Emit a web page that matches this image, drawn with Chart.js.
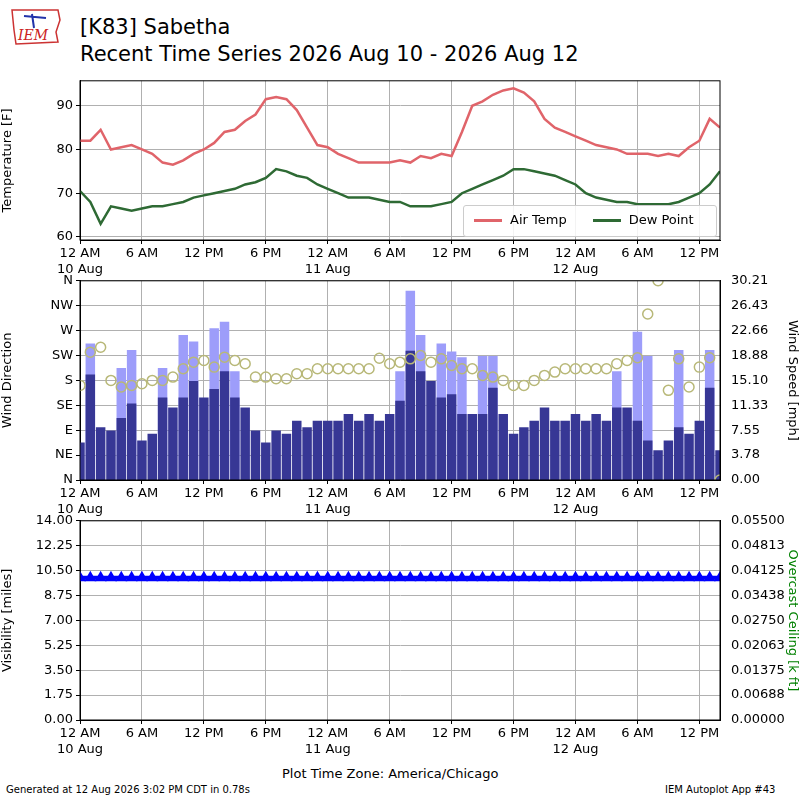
<!DOCTYPE html>
<html>
<head>
<meta charset="utf-8">
<script src="https://cdn.jsdelivr.net/npm/chart.js@4/dist/chart.umd.min.js"></script>
<style>
  body { margin: 0; width: 800px; height: 800px; background: #fff; position: relative; font-family: "DejaVu Sans", sans-serif; overflow: hidden; }
  canvas { position: absolute; left: 0; }
  .t { position: absolute; color: #000; white-space: nowrap; }
  #legend { position: absolute; left: 463px; top: 205px; width: 252px; height: 30px; border: 1px solid #ccc; border-radius: 3px; background: rgba(255,255,255,0.85); font-size: 13px; }
  #legend span.l { display: inline-block; width: 28px; height: 3px; vertical-align: middle; margin: 0 8px 0 10px; }
  #logo { position: absolute; left: 8px; top: 6px; width: 55px; height: 44px; }
</style>
</head>
<body>
<svg id="logo" viewBox="0 0 55 44">
  <path d="M4 4 L50 4 L52 14 L48 26 L50 36 L8 38 L6 24 Z" fill="#fff" stroke="#c33" stroke-width="1.5"/>
  <path d="M16 10 L38 12 M24 8 L26 22" stroke="#2233aa" stroke-width="2"/>
  <text x="10" y="34" font-size="14" fill="#c22" font-family="DejaVu Serif" font-style="italic">IEM</text>
</svg>
<div class="t" style="left:80px;top:15px;font-size:21px">[K83] Sabetha</div>
<div class="t" style="left:80px;top:42px;font-size:21px">Recent Time Series 2026 Aug 10 - 2026 Aug 12</div>
<canvas id="c1" width="800" height="210" style="top:70px"></canvas>
<canvas id="c2" width="800" height="250" style="top:270px"></canvas>
<canvas id="c3" width="800" height="250" style="top:510px"></canvas>
<div id="legend"><div style="margin-top:6px"><span class="l" style="background:#e0646a"></span>Air Temp<span class="l" style="background:#2e6a34;margin-left:26px"></span>Dew Point</div></div>
<div class="t" style="left:282px;top:766px;font-size:13px">Plot Time Zone: America/Chicago</div>
<div class="t" style="left:6px;top:784px;font-size:10px">Generated at 12 Aug 2026 3:02 PM CDT in 0.78s</div>
<div class="t" style="left:665px;top:784px;font-size:10px">IEM Autoplot App #43</div>
<script>
// hours since 12 AM 10 Aug (America/Chicago)
const hours = [0,1,2,3,4,5,6,7,8,9,10,11,12,13,14,15,16,17,18,19,20,21,22,23,24,25,26,27,28,29,30,31,32,33,34,35,36,37,38,39,40,41,42,43,44,45,46,47,48,49,50,51,52,53,54,55,56,57,58,59,60,61,62];
const airTemp = [82,82,84.5,80,80.5,81,80,79,77,76.5,77.5,79,80,81.5,84,84.5,86.5,88,91.5,92,91.5,89,85,81,80.5,79,78,77,77,77,77,77.5,77,78.5,78,79,78.5,84,90,91,92.5,93.5,94,93,91,87,85,84,83,82,81,80.5,80,79,79,79,78.5,79,78.5,80.5,82,87,85];
const dewPoint = [70.5,68,63,67,66.5,66,66.5,67,67,67.5,68,69,69.5,70,70.5,71,72,72.5,73.5,75.5,75,74,73.5,72,71,70,69,69,69,68.5,68,68,67,67,67,67.5,68,70,71,72,73,74,75.5,75.5,75,74.5,74,73,72,70,69,68.5,68,68,67.5,67.5,67.5,67.5,68,69,70,72,75];
const windSpeed = [5.7,16,8,7.5,9.4,11.6,6,7,12.5,11,12.5,15,12.5,13.8,16.5,12.5,11,7.5,5.7,7.5,7,9,8,9,9,9,10,9,10,9,10,12,19.6,16.5,15,12.5,13,10,10,10,14,10,7,8,9,11,9,9,10,9,10,9,11,11,9,6,4.5,6,8,7,9,14,4.5];
const windGust = [null,20.7,null,null,17,19.7,null,null,17,null,22,21,null,23,24,16.5,null,null,null,null,null,null,null,null,null,null,null,null,null,null,null,16.5,28.7,22,null,20.7,19.5,18.6,null,18.8,18.8,null,null,null,null,null,null,null,null,null,null,null,16.5,null,22.5,18.8,null,null,19.7,null,null,19.7,null];
const windDir = [171,231,240,180,168,171,174,180,180,186,201,213,216,204,222,216,210,186,186,183,183,192,192,201,201,201,201,201,201,220,210,213,219,225,213,219,207,201,201,189,186,180,171,171,180,189,195,201,201,201,201,201,210,216,221,300,360,162,219,168,204,221,0];
const visibility = [10,10,10,10,10,10,10,10,10,10,10,10,10,10,10,10,10,10,10,10,10,10,10,10,10,10,10,10,10,10,10,10,10,10,10,10,10,10,10,10,10,10,10,10,10,10,10,10,10,10,10,10,10,10,10,10,10,10,10,10,10,10,10];
const hourTicks = [0,6,12,18,24,30,36,42,48,54,60];
const hourLabels = [["12 AM","10 Aug"],"6 AM","12 PM","6 PM",["12 AM","11 Aug"],"6 AM","12 PM","6 PM",["12 AM","12 Aug"],"6 AM","12 PM"];
const tempTicks = [60,70,80,90];
const dirTicks = [0,45,90,135,180,225,270,315,360];
const dirLabels = ["N","NE","E","SE","S","SW","W","NW","N"];
const speedTicks = [0,3.78,7.55,11.33,15.10,18.88,22.66,26.43,30.21];
const visTicks = [0,1.75,3.5,5.25,7,8.75,10.5,12.25,14];
const ceilTicks = [0,0.00688,0.01375,0.02063,0.0275,0.03438,0.04125,0.04813,0.055];

Chart.defaults.font.family = "DejaVu Sans";
Chart.defaults.font.size = 13;
Chart.defaults.color = "#000";
Chart.defaults.animation = false;

const frame = {
  id: "frame",
  afterDraw(chart) {
    const a = chart.chartArea, c = chart.ctx;
    c.save(); c.strokeStyle = "#000"; c.lineWidth = 1;
    c.strokeRect(a.left, a.top, a.right - a.left, a.bottom - a.top);
    c.restore();
  }
};
const grid = { color: "#b0b0b0", tickColor: "#000", tickLength: 4, offset: false };
function fixW(w) { return (s) => { s.width = w; }; }
function fixH(h) { return (s) => { s.height = h; }; }
function xScale() {
  return {
    type: "linear", min: 0, max: 62, offset: false, grid: grid, border: { color: "#000" },
    afterBuildTicks: (s) => { s.ticks = hourTicks.map((v) => ({ value: v })); },
    ticks: { maxRotation: 0, autoSkip: false, padding: 2, callback: (v) => hourLabels[hourTicks.indexOf(v)] },
    afterFit: fixH(40)
  };
}
function yTicks(vals) {
  return (s) => { s.ticks = vals.map((v) => ({ value: v })); };
}

new Chart(document.getElementById("c1"), {
  type: "line",
  data: { datasets: [
    { label: "Air Temp", data: hours.map((h, i) => ({ x: h, y: airTemp[i] })), borderColor: "#e0646a", borderWidth: 2.5, pointRadius: 0 },
    { label: "Dew Point", data: hours.map((h, i) => ({ x: h, y: dewPoint[i] })), borderColor: "#2e6a34", borderWidth: 2.5, pointRadius: 0 }
  ] },
  options: {
    responsive: false, layout: { padding: { top: 10, right: 80, left: 0, bottom: 0 } },
    plugins: { legend: { display: false }, tooltip: { enabled: false } },
    scales: {
      x: xScale(),
      y: { min: 59.3, max: 95.7, grid: grid, border: { color: "#000" }, afterBuildTicks: yTicks(tempTicks),
        title: { display: true, text: "Temperature [F]", padding: 0 }, afterFit: fixW(80) }
    }
  },
  plugins: [frame]
});

new Chart(document.getElementById("c2"), {
  data: { datasets: [
    { type: "scatter", data: hours.map((h, i) => ({ x: h, y: windDir[i] })), yAxisID: "y", order: 0,
      pointRadius: 5, pointBorderWidth: 1.5, borderColor: "#b8b878", backgroundColor: "rgba(0,0,0,0)" },
    { type: "bar", data: hours.map((h, i) => ({ x: h, y: windSpeed[i] })), yAxisID: "y2", order: 1,
      backgroundColor: "#373795", barPercentage: 1, categoryPercentage: 0.92, grouped: false },
    { type: "bar", data: hours.map((h, i) => ({ x: h, y: windGust[i] })), yAxisID: "y2", order: 2,
      backgroundColor: "#9d9dfa", barPercentage: 1, categoryPercentage: 0.92, grouped: false }
  ] },
  options: {
    responsive: false, layout: { padding: { top: 10 } },
    plugins: { legend: { display: false }, tooltip: { enabled: false } },
    scales: {
      x: xScale(),
      y: { position: "left", min: 0, max: 360, grid: grid, border: { color: "#000" }, afterBuildTicks: yTicks(dirTicks),
        ticks: { callback: (v) => dirLabels[dirTicks.indexOf(v)] },
        title: { display: true, text: "Wind Direction", padding: 0 }, afterFit: fixW(80) },
      y2: { position: "right", min: 0, max: 30.21, grid: { display: false }, border: { color: "#000" }, afterBuildTicks: yTicks(speedTicks),
        ticks: { callback: (v) => v.toFixed(2) },
        title: { display: true, text: "Wind Speed [mph]", padding: 0 }, afterFit: fixW(80) }
    }
  },
  plugins: [frame]
});

new Chart(document.getElementById("c3"), {
  type: "line",
  data: { datasets: [
    { data: hours.map((h, i) => ({ x: h, y: visibility[i] })), yAxisID: "y", borderColor: "#0000ff", borderWidth: 4,
      pointStyle: "triangle", pointRadius: 3, pointBackgroundColor: "#0000ff", pointBorderColor: "#0000ff" }
  ] },
  options: {
    responsive: false, layout: { padding: { top: 10 } },
    plugins: { legend: { display: false }, tooltip: { enabled: false } },
    scales: {
      x: xScale(),
      y: { position: "left", min: 0, max: 14, grid: grid, border: { color: "#000" }, afterBuildTicks: yTicks(visTicks),
        ticks: { callback: (v) => v.toFixed(2) },
        title: { display: true, text: "Visibility [miles]", padding: 0 }, afterFit: fixW(80) },
      y2: { position: "right", min: 0, max: 0.055, grid: { display: false }, border: { color: "#000" }, afterBuildTicks: yTicks(ceilTicks),
        ticks: { callback: (v) => v.toFixed(5) },
        title: { display: true, text: "Overcast Ceiling [k ft]", color: "#008000", padding: 0 }, afterFit: fixW(80) }
    }
  },
  plugins: [frame]
});
</script>
</body>
</html>
